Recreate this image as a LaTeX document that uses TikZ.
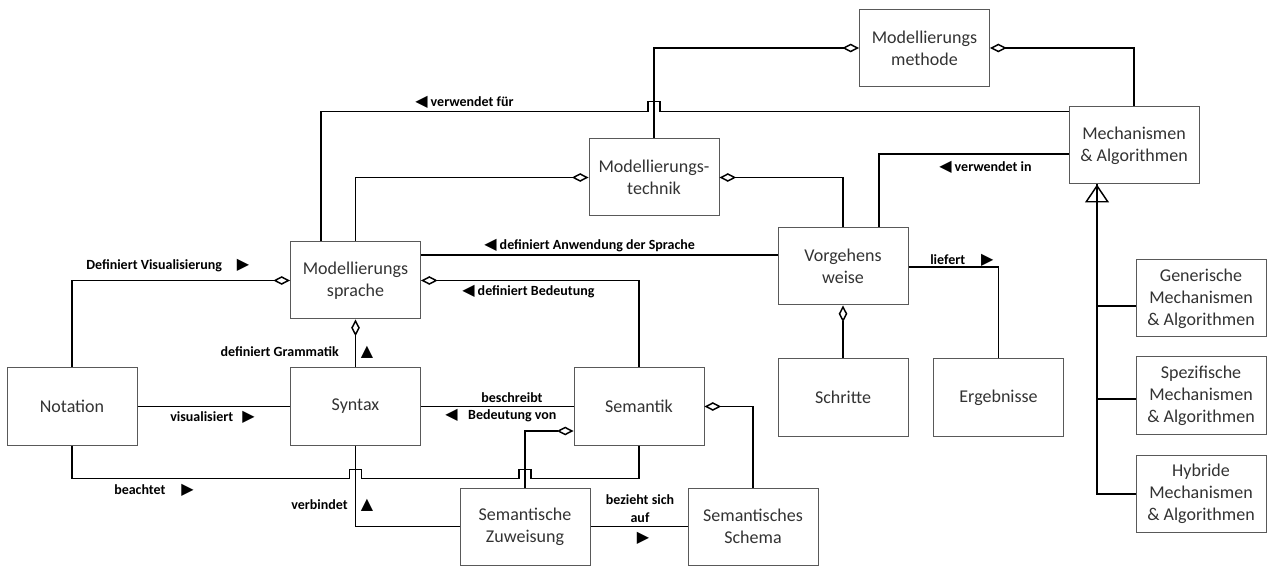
\documentclass[tikz,border=0pt]{standalone}
\usepackage{fontspec}
\setmainfont{Carlito}
\newfontfamily\trifont{DejaVu Sans}
\usetikzlibrary{arrows.meta,calc}
\newcommand{\rtri}{{\trifont\fontsize{12}{12}\selectfont ▶}}
\newcommand{\ltri}{{\trifont\fontsize{12}{12}\selectfont ◀}}
\newcommand{\utri}{{\trifont\fontsize{12}{12}\selectfont ▲}}
\tikzset{
  box/.style={draw=black!65, line width=0.75pt, fill=white, minimum width=97.5pt, minimum height=57.75pt,
    inner sep=2pt, align=center, text=black!80, font=\fontsize{13.5}{16.5}\selectfont},
  conn/.style={black, line width=1.1pt},
  agg/.style={conn, {Diamond[open, length=12.5pt, width=6.5pt]}-},
  gen/.style={conn, {Triangle[open, length=13.5pt, width=18pt]}-},
  lbl/.style={inner sep=0pt, align=center, font=\fontsize{10.5}{13.5}\selectfont\bfseries},
}
\begin{document}
\begin{tikzpicture}[x=0.75pt,y=-0.75pt]
    \useasboundingbox (0,0) rectangle (1267,566);
    \node [box] (methode) at (924.5,48) {Modellierungs\\methode};
    \node [box] (mech) at (1134,145.5) {Mechanismen\\\& Algorithmen};
    \node [box] (technik) at (654,177.5) {Modellierungs-\\technik};
    \node [box] (sprache) at (355.5,280.5) {Modellierungs\\sprache};
    \node [box] (vorgehen) at (843,266.5) {Vorgehens\\weise};
    \node [box] (notation) at (72,406.5) {Notation};
    \node [box] (syntax) at (355.5,406.5) {Syntax};
    \node [box] (semantik) at (639,406.5) {Semantik};
    \node [box] (schritte) at (843,397.5) {Schritte};
    \node [box] (ergebnisse) at (998.5,397.5) {Ergebnisse};
    \node [box] (generisch) at (1201,298.5) {Generische\\Mechanismen\\\& Algorithmen};
    \node [box] (spezifisch) at (1201,395.5) {Spezifische\\Mechanismen\\\& Algorithmen};
    \node [box] (hybrid) at (1201,493.5) {Hybride\\Mechanismen\\\& Algorithmen};
    \node [box] (zuweisung) at (525,526.5) {Semantische\\Zuweisung};
    \node [box] (schema) at (753,526.5) {Semantisches\\Schema};

    \coordinate (vf) at ($(mech.north west)+(0,5)$);
    \coordinate (j1) at (technik.north |- vf);
    \coordinate (bt) at ($(syntax.south)+(0,33)$);
    \coordinate (j2) at (zuweisung.north |- bt);
    \coordinate (trunk) at ($(mech.south)+(-37,0)$);

    \draw [agg] (methode.west) -| (technik.north);
    \draw [agg] (methode.east) -| (mech.north);
    \draw [conn] (vf) -- ($(j1)+(6,0)$) -- ++(0,-10) -- ++(-12,0) -- ++(0,10) -| ($(sprache.north west)+(31,0)$);
    \draw [agg] (technik.west) -| (sprache.north);
    \draw [agg] (technik.east) -| (vorgehen.north);
    \draw [conn] ($(mech.west)+(0,8.5)$) -| ($(vorgehen.north)+(36,0)$);
    \draw [conn] ($(sprache.east)+(0,-25.5)$) -- ($(vorgehen.west)+(0,-11.5)$);
    \draw [agg] (sprache.east) -| (semantik.north);
    \draw [agg] (sprache.west) -| (notation.north);
    \draw [agg] (sprache.south) -- (syntax.north);
    \draw [conn] (notation.east) -- (syntax.west);
    \draw [conn] (notation.south) |- ($(bt)+(-6,0)$) -- ++(0,-9) -- ++(12,0) -- ++(0,9)
      -- ($(j2)+(-6,0)$) -- ++(0,-9) -- ++(12,0) -- ++(0,9) -| (semantik.south);
    \draw [conn] (syntax.south) |- (zuweisung.west);
    \draw [conn] (semantik.west) -- (syntax.east);
    \draw [agg] ($(semantik.west)+(0,24.5)$) -| (zuweisung.north);
    \draw [agg] (semantik.east) -| (schema.north);
    \draw [conn] (zuweisung.east) -- (schema.west);
    \draw [agg] (vorgehen.south) -- (schritte.north);
    \draw [conn] ($(vorgehen.east)+(0,0.5)$) -| (ergebnisse.north);
    \draw [gen] (trunk) |- ($(hybrid.west)+(0,0.5)$);
    \draw [conn] ($(generisch.west)+(0,7.5)$) -| (trunk);
    \draw [conn] ($(spezifisch.west)+(0,3.5)$) -| (trunk);

    \node [lbl, anchor=west] (l1) at (415,102) {\ltri\ verwendet für};
    \node [lbl, anchor=west] (l2) at (939,167) {\ltri\ verwendet in};
    \node [lbl, anchor=west] (l3) at (484,246) {\ltri\ definiert Anwendung der Sprache};
    \node [lbl, anchor=west] (l4) at (462,292) {\ltri\ definiert Bedeutung};
    \node [lbl, anchor=west] (l5) at (86,266) {Definiert Visualisierung\hspace{11pt}\rtri};
    \node [lbl, anchor=east] (l6) at (339,352) {definiert Grammatik};
    \node [lbl] (l6a) at (367,352) {\utri};
    \node [lbl, anchor=west] (l7) at (170,417) {visualisiert\hspace{7pt}\rtri};
    \node [lbl, anchor=west] (l8) at (114,490) {beachtet\hspace{12pt}\rtri};
    \node [lbl, anchor=east] (l9) at (348,505) {verbindet};
    \node [lbl] (l9a) at (367,505) {\utri};
    \node [lbl] (l10) at (512,398) {beschreibt};
    \node [lbl, anchor=west] (l11) at (445,416) {\ltri\hspace{8pt}Bedeutung von};
    \node [lbl] (l12) at (640,509) {bezieht sich\\auf};
    \node [lbl] (l12a) at (643,538) {\rtri};
    \node [lbl, anchor=west] (l13) at (930,260) {liefert\hspace{12pt}\rtri};
\end{tikzpicture}
\end{document}
